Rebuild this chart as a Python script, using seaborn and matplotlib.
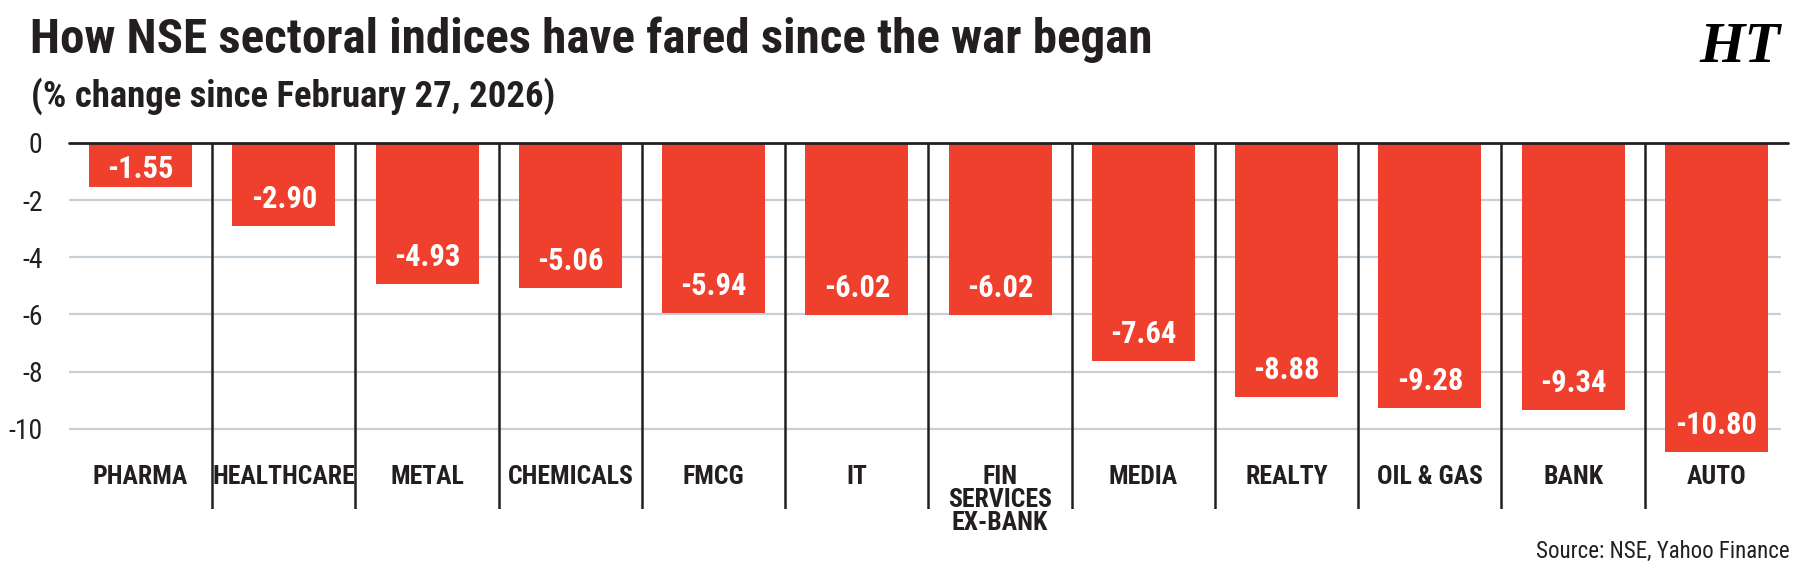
import matplotlib
matplotlib.use("Agg")
import matplotlib.pyplot as plt
import seaborn as sns
import pandas as pd
from matplotlib import font_manager

# ---------------- data ----------------
categories = ["PHARMA", "HEALTHCARE", "METAL", "CHEMICALS", "FMCG", "IT",
              "FIN\nSERVICES\nEX-BANK", "MEDIA", "REALTY", "OIL & GAS", "BANK", "AUTO"]
values = [-1.55, -2.90, -4.93, -5.06, -5.94, -6.02, -6.02, -7.64, -8.88, -9.28, -9.34, -10.80]
value_labels = ["-1.55", "-2.90", "-4.93", "-5.06", "-5.94", "-6.02", "-6.02",
                "-7.64", "-8.88", "-9.28", "-9.34", "-10.80"]
y_ticks = [0, -2, -4, -6, -8, -10]
y_tick_labels = ["0", "-2", "-4", "-6", "-8", "-10"]
title = "How NSE sectoral indices have fared since the war began"
subtitle = "(% change since February 27, 2026)"
source = "Source: NSE, Yahoo Finance"
logo = "HT"

# ---------------- style ----------------
sns.set_theme(style="white")
available = {f.name for f in font_manager.fontManager.ttflist}
prefs = ["Liberation Sans Narrow", "Roboto Condensed", "Open Sans Condensed",
         "DejaVu Sans Condensed", "Liberation Sans", "DejaVu Sans"]
FONT = next(p for p in prefs if p in available)
plt.rcParams["font.family"] = [FONT, "DejaVu Sans"]

RED = "#EE402D"
DARK = "#231F20"
GRID = "#C8D0D7"

W, H = 1799, 568
fig = plt.figure(figsize=(W / 100, H / 100), dpi=100)
fig.patch.set_facecolor("white")

ax_left, ax_right = 69, 1788
ax_top, ax_bottom = 143, 509
ax = fig.add_axes([ax_left / W, (H - ax_bottom) / H,
                   (ax_right - ax_left) / W, (ax_bottom - ax_top) / H])

px_per_unit = 28.57
ymin = -(ax_bottom - ax_top) / px_per_unit

df = pd.DataFrame({"sector": categories, "change": values})
sns.barplot(data=df, x="sector", y="change", order=categories, color=RED,
            saturation=1, width=0.72, linewidth=0, ax=ax, zorder=2)

ax.set_xlim(-0.5, len(categories) - 0.5)
ax.set_ylim(ymin, 0)
for s in ax.spines.values():
    s.set_visible(False)
ax.set_xticks([])
ax.set_xlabel("")
ax.set_ylabel("")
ax.set_yticks(y_ticks)
ax.set_yticklabels(y_tick_labels, fontsize=20, color=DARK)
ax.tick_params(axis="y", length=0, pad=19)

# gridlines
grid_xmax = (1780 - ax_left) / (ax_right - ax_left)
for t in y_ticks[1:]:
    ax.axhline(t, xmin=0, xmax=grid_xmax, color=GRID, lw=1.6, zorder=1)
# zero line
ax.axhline(0, color=DARK, lw=2, zorder=4, clip_on=False)
# separators
ax.vlines([i + 0.5 for i in range(len(categories) - 1)], ymin, 0,
          color=DARK, lw=1.8, zorder=3)

# value labels inside bars
off = 27 / px_per_unit
minpos = -26 / px_per_unit
for i, (v, lab) in enumerate(zip(values, value_labels)):
    y = min(v + off, minpos)
    ax.text(i, y, lab, ha="center", va="center", color="white",
            fontsize=22, fontweight="bold", zorder=5)

# category labels
label_top = -(465 - ax_top) / px_per_unit
for i, c in enumerate(categories):
    ax.text(i, label_top, c, ha="center", va="top", color=DARK,
            fontsize=18.5, fontweight="bold", linespacing=0.95, zorder=5)

# titles
fig.text(30 / W, 1 - 53 / H, title, ha="left", va="baseline",
         fontsize=35.3, fontweight="bold", color=DARK)
fig.text(31 / W, 1 - 107 / H, subtitle, ha="left", va="baseline",
         fontsize=26.5, fontweight="bold", color=DARK)
fig.text(1790 / W, 1 - 558 / H, source, ha="right", va="baseline",
         fontsize=16.5, color=DARK)
fig.text(1780 / W, 1 - 62 / H, logo, ha="right", va="baseline",
         fontsize=42, fontweight="bold", fontstyle="italic",
         family=["Liberation Serif", "DejaVu Serif"], color="black")

fig.savefig("out.png", dpi=100, facecolor="white")
